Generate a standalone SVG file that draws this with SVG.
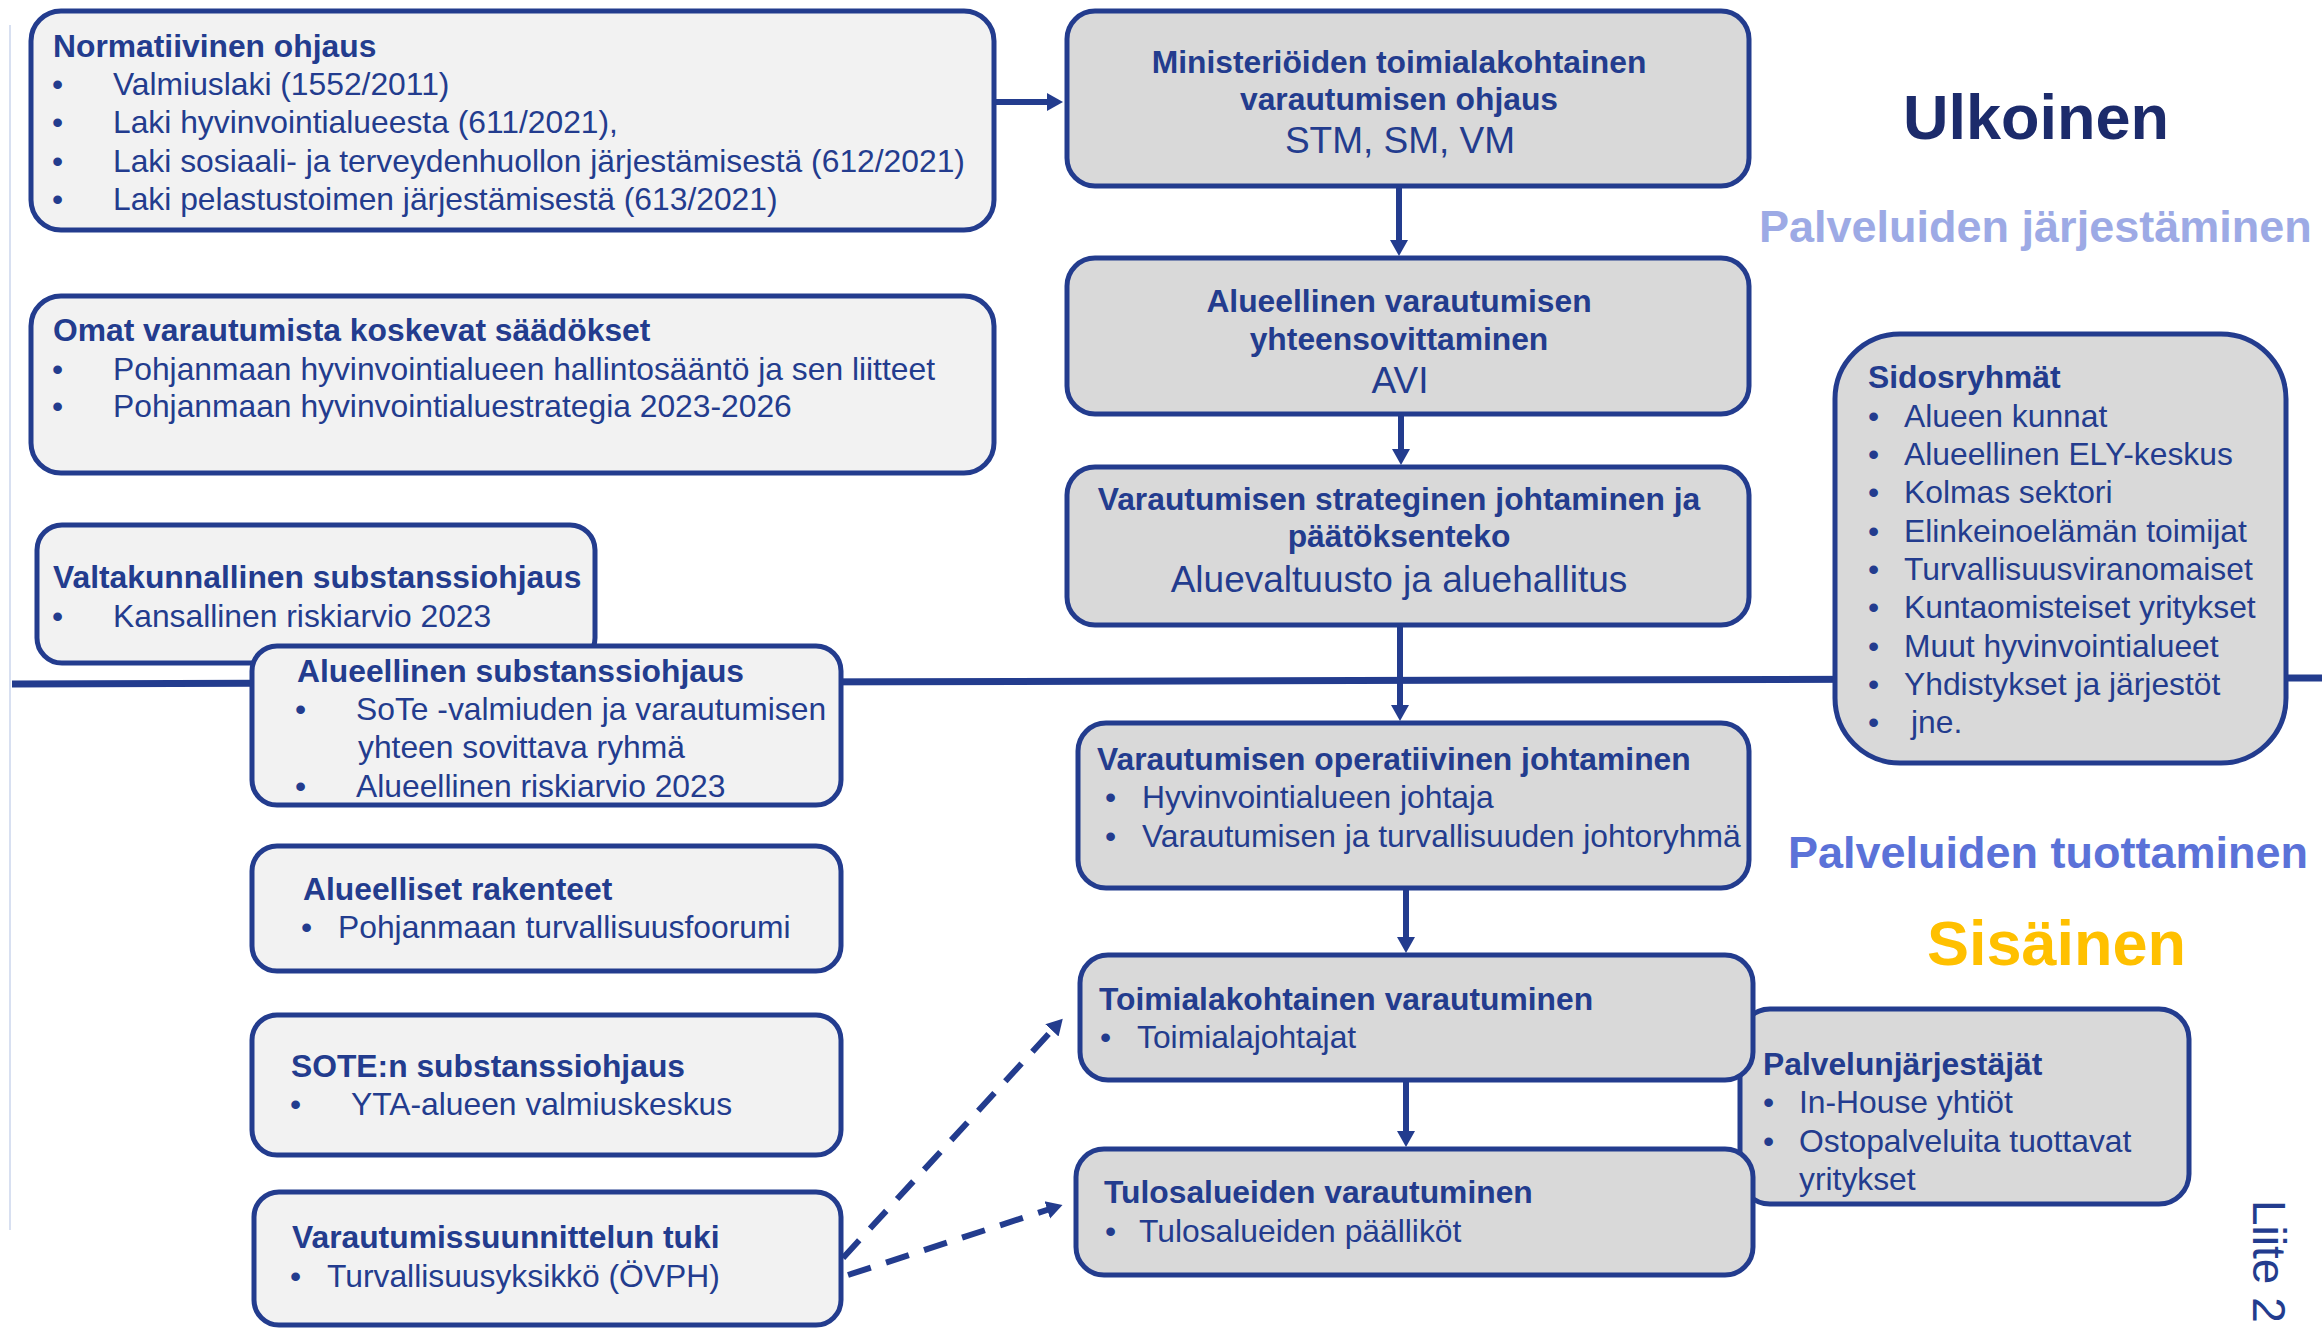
<svg xmlns="http://www.w3.org/2000/svg" width="2322" height="1329" viewBox="0 0 2322 1329">
<style>
text{font-family:"Liberation Sans",Arial,sans-serif;fill:#233C8E}
.b{font-weight:bold;font-size:31.8px}
.r{font-size:31.8px}
.big{font-size:37px}
.c{text-anchor:middle}
.lt{fill:#F2F2F2;stroke:#233C8E;stroke-width:5}
.gr{fill:#D9D9D9;stroke:#233C8E;stroke-width:5}
.con{stroke:#233C8E;stroke-width:6;fill:none}
.dash{stroke-dasharray:24 16}
</style>
<defs>
<marker id="ah" markerWidth="18" markerHeight="20" refX="6" refY="10" orient="auto" markerUnits="userSpaceOnUse">
<path d="M0,1 L16,10 L0,19 z" fill="#233C8E"/>
</marker>
</defs>
<rect width="2322" height="1329" fill="#FFFFFF"/>
<line x1="10" y1="25" x2="10" y2="1230" stroke="#D8E0F1" stroke-width="2"/>
<g id="divider">
<line x1="12" y1="684" x2="2322" y2="678" stroke="#233C8E" stroke-width="7"/>
</g>
<g id="labels">
<text x="1903" y="139" style="font-weight:bold;font-size:63px;fill:#1C2B6B">Ulkoinen</text>
<text x="1759" y="242" style="font-weight:bold;font-size:45px;fill:#9DAAE5">Palveluiden järjestäminen</text>
<text x="1788" y="868" style="font-weight:bold;font-size:45px;fill:#5B72D8">Palveluiden tuottaminen</text>
<text x="1927" y="965" style="font-weight:bold;font-size:63px;fill:#FFC000">Sisäinen</text>
<text transform="translate(2253,1200) rotate(90)" style="font-size:46px">Liite 2</text>
</g>
<g id="connectors">
<line class="con" x1="996" y1="102" x2="1053" y2="102" marker-end="url(#ah)"/>
<line class="con" x1="1399" y1="188" x2="1399" y2="246" marker-end="url(#ah)"/>
<line class="con" x1="1401" y1="416" x2="1401" y2="455" marker-end="url(#ah)"/>
<line class="con" x1="1400" y1="627" x2="1400" y2="711" marker-end="url(#ah)"/>
<line class="con" x1="1406" y1="890" x2="1406" y2="943" marker-end="url(#ah)"/>
<line class="con" x1="1406" y1="1082" x2="1406" y2="1137" marker-end="url(#ah)"/>
<line class="con dash" x1="843" y1="1258" x2="1056" y2="1026" marker-end="url(#ah)"/>
<line class="con dash" x1="848" y1="1275" x2="1053" y2="1208" marker-end="url(#ah)"/>
</g>
<g id="n-normatiivinen">
<rect class="lt" x="31" y="11" width="963" height="219" rx="30"/>
<text class="b" x="53" y="57">Normatiivinen ohjaus</text>
<text class="r" x="52" y="95">•</text><text class="r" x="113" y="95">Valmiuslaki (1552/2011)</text>
<text class="r" x="52" y="133">•</text><text class="r" x="113" y="133">Laki hyvinvointialueesta (611/2021),</text>
<text class="r" x="52" y="172">•</text><text class="r" x="113" y="172">Laki sosiaali- ja terveydenhuollon järjestämisestä (612/2021)</text>
<text class="r" x="52" y="210">•</text><text class="r" x="113" y="210">Laki pelastustoimen järjestämisestä (613/2021)</text>
</g>
<g id="n-omat">
<rect class="lt" x="31" y="296" width="963" height="177" rx="30"/>
<text class="b" x="53" y="341">Omat varautumista koskevat säädökset</text>
<text class="r" x="52" y="380">•</text><text class="r" x="113" y="380">Pohjanmaan hyvinvointialueen hallintosääntö ja sen liitteet</text>
<text class="r" x="52" y="417">•</text><text class="r" x="113" y="417">Pohjanmaan hyvinvointialuestrategia 2023-2026</text>
</g>
<g id="n-valtakunnallinen">
<rect class="lt" x="37" y="525" width="558" height="138" rx="25"/>
<text class="b" x="53" y="588">Valtakunnallinen substanssiohjaus</text>
<text class="r" x="52" y="627">•</text><text class="r" x="113" y="627">Kansallinen riskiarvio 2023</text>
</g>
<g id="n-alueellinen-substanssi">
<rect class="lt" x="252" y="646" width="589" height="159" rx="25"/>
<text class="b" x="297" y="682">Alueellinen substanssiohjaus</text>
<text class="r" x="295" y="720">•</text><text class="r" x="356" y="720">SoTe -valmiuden ja varautumisen</text>
<text class="r" x="358" y="758">yhteen sovittava ryhmä</text>
<text class="r" x="295" y="797">•</text><text class="r" x="356" y="797">Alueellinen riskiarvio 2023</text>
</g>
<g id="n-rakenteet">
<rect class="lt" x="252" y="846" width="589" height="125" rx="25"/>
<text class="b" x="303" y="900">Alueelliset rakenteet</text>
<text class="r" x="301" y="938">•</text><text class="r" x="338" y="938">Pohjanmaan turvallisuusfoorumi</text>
</g>
<g id="n-sote">
<rect class="lt" x="252" y="1015" width="589" height="140" rx="25"/>
<text class="b" x="291" y="1077">SOTE:n substanssiohjaus</text>
<text class="r" x="290" y="1115">•</text><text class="r" x="351" y="1115">YTA-alueen valmiuskeskus</text>
</g>
<g id="n-tuki">
<rect class="lt" x="254" y="1192" width="587" height="133" rx="25"/>
<text class="b" x="292" y="1248">Varautumissuunnittelun tuki</text>
<text class="r" x="290" y="1287">•</text><text class="r" x="327" y="1287">Turvallisuusyksikkö (ÖVPH)</text>
</g>
<g id="n-ministeriot">
<rect class="gr" x="1067" y="11" width="682" height="175" rx="28"/>
<text class="b c" x="1399" y="73">Ministeriöiden toimialakohtainen</text>
<text class="b c" x="1399" y="110">varautumisen ohjaus</text>
<text class="big c" x="1400" y="153">STM, SM, VM</text>
</g>
<g id="n-avi">
<rect class="gr" x="1067" y="258" width="682" height="156" rx="28"/>
<text class="b c" x="1399" y="312">Alueellinen varautumisen</text>
<text class="b c" x="1399" y="350">yhteensovittaminen</text>
<text class="big c" x="1400" y="393">AVI</text>
</g>
<g id="n-strateginen">
<rect class="gr" x="1067" y="467" width="682" height="158" rx="28"/>
<text class="b c" x="1399" y="510">Varautumisen strateginen johtaminen ja</text>
<text class="b c" x="1399" y="547">päätöksenteko</text>
<text class="big c" x="1399" y="592">Aluevaltuusto ja aluehallitus</text>
</g>
<g id="n-operatiivinen">
<rect class="gr" x="1078" y="723" width="671" height="165" rx="28"/>
<text class="b" x="1097" y="770">Varautumisen operatiivinen johtaminen</text>
<text class="r" x="1105" y="808">•</text><text class="r" x="1142" y="808">Hyvinvointialueen johtaja</text>
<text class="r" x="1105" y="847">•</text><text class="r" x="1142" y="847">Varautumisen ja turvallisuuden johtoryhmä</text>
</g>
<g id="n-sidosryhmat">
<rect class="gr" x="1835" y="334" width="451" height="429" rx="65"/>
<text class="b" x="1868" y="388">Sidosryhmät</text>
<text class="r" x="1868" y="427">•</text><text class="r" x="1904" y="427">Alueen kunnat</text>
<text class="r" x="1868" y="465">•</text><text class="r" x="1904" y="465">Alueellinen ELY-keskus</text>
<text class="r" x="1868" y="503">•</text><text class="r" x="1904" y="503">Kolmas sektori</text>
<text class="r" x="1868" y="542">•</text><text class="r" x="1904" y="542">Elinkeinoelämän toimijat</text>
<text class="r" x="1868" y="580">•</text><text class="r" x="1904" y="580">Turvallisuusviranomaiset</text>
<text class="r" x="1868" y="618">•</text><text class="r" x="1904" y="618">Kuntaomisteiset yritykset</text>
<text class="r" x="1868" y="657">•</text><text class="r" x="1904" y="657">Muut hyvinvointialueet</text>
<text class="r" x="1868" y="695">•</text><text class="r" x="1904" y="695">Yhdistykset ja järjestöt</text>
<text class="r" x="1868" y="733">•</text><text class="r" x="1911" y="733">jne.</text>
</g>
<g id="n-palvelunjarjestajat">
<rect class="gr" x="1740" y="1009" width="449" height="195" rx="30"/>
<text class="b" x="1763" y="1075">Palvelunjärjestäjät</text>
<text class="r" x="1763" y="1113">•</text><text class="r" x="1799" y="1113">In-House yhtiöt</text>
<text class="r" x="1763" y="1152">•</text><text class="r" x="1799" y="1152">Ostopalveluita tuottavat</text>
<text class="r" x="1799" y="1190">yritykset</text>
</g>
<g id="n-toimiala">
<rect class="gr" x="1080" y="955" width="673" height="125" rx="28"/>
<text class="b" x="1099" y="1010">Toimialakohtainen varautuminen</text>
<text class="r" x="1100" y="1048">•</text><text class="r" x="1137" y="1048">Toimialajohtajat</text>
</g>
<g id="n-tulosalueet">
<rect class="gr" x="1076" y="1149" width="677" height="126" rx="28"/>
<text class="b" x="1104" y="1203">Tulosalueiden varautuminen</text>
<text class="r" x="1105" y="1242">•</text><text class="r" x="1139" y="1242">Tulosalueiden päälliköt</text>
</g>
</svg>
